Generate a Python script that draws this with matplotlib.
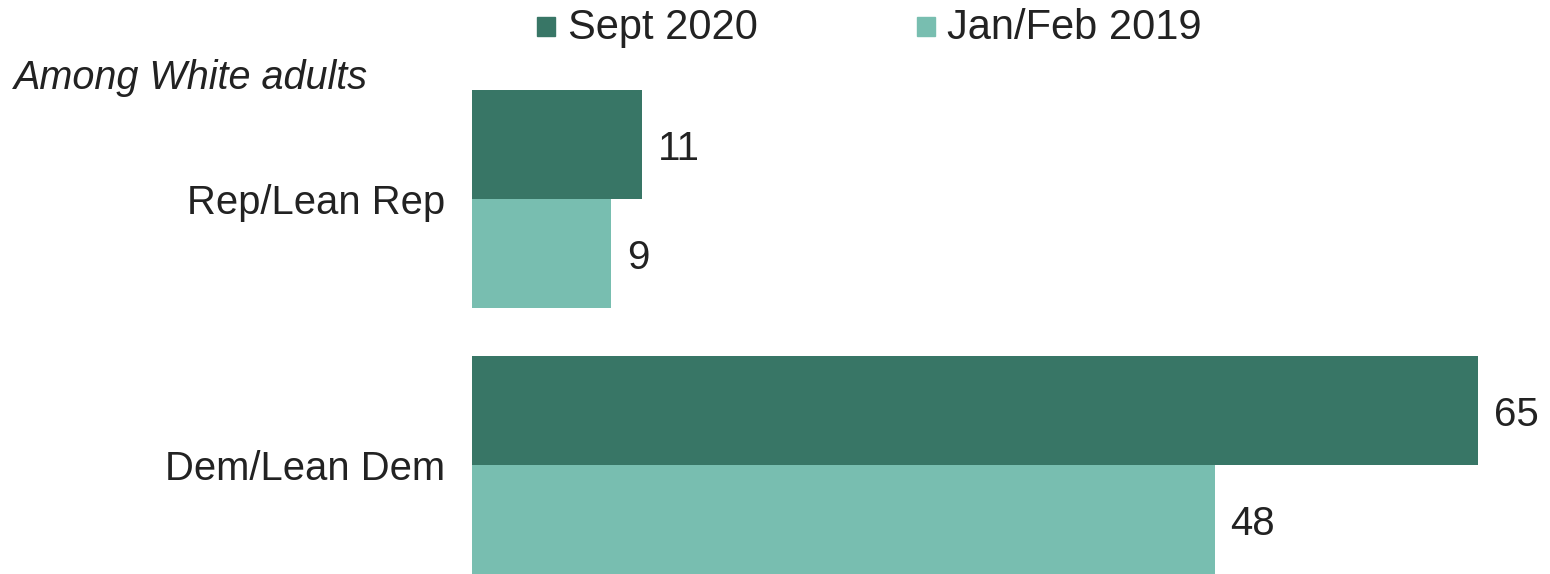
import matplotlib.pyplot as plt
from matplotlib.patches import Rectangle

# data
groups = ['Rep/Lean Rep', 'Dem/Lean Dem']
sept_2020 = [11, 65]
janfeb_2019 = [9, 48]
series_names = ['Sept 2020', 'Jan/Feb 2019']
dark = '#387666'
light = '#78BEB0'

plt.rcParams['font.family'] = ['Liberation Sans', 'DejaVu Sans']

fig = plt.figure(figsize=(15.5, 5.74), dpi=100)
W, H = 1550, 574
ax = fig.add_axes([472 / W, 0, 1078 / W, (574 - 89) / H])

h = 0.41
pos = list(range(len(groups)))
ax.barh([p - h / 2 for p in pos], sept_2020, height=h, color=dark)
ax.barh([p + h / 2 for p in pos], janfeb_2019, height=h, color=light)

ax.set_xlim(0, 1078 / 15.48)
ax.set_ylim(1.41, -0.4135)
ax.axis('off')

# value labels, nudged a bit downward
dy = 0.018
for p, v in zip(pos, sept_2020):
    ax.text(v + 1.0, p - h / 2 + dy, str(v), va='center', ha='left', fontsize=29,
            color='#222222')
for p, v in zip(pos, janfeb_2019):
    ax.text(v + 1.0, p + h / 2 + dy, str(v), va='center', ha='left', fontsize=29,
            color='#222222')

for p, g in zip(pos, groups):
    ax.text(-27 / 15.48, p + 0.016, g, va='center', ha='right', fontsize=28.8,
            color='#222222')

fig.text(14 / W, 1 - 78 / H, 'Among White adults', style='italic', fontsize=28.5,
         va='center', ha='left', color='#222222')

# legend
for x0, x1, c, name in [(537, 568, dark, series_names[0]), (917, 947, light, series_names[1])]:
    fig.patches.append(Rectangle((x0 / W, 1 - 36 / H), 18 / W, 19 / H,
                                 transform=fig.transFigure, color=c))
    fig.text(x1 / W, 1 - 28 / H, name, fontsize=30, va='center', ha='left',
             color='#222222')

plt.savefig('out.png', dpi=100)
